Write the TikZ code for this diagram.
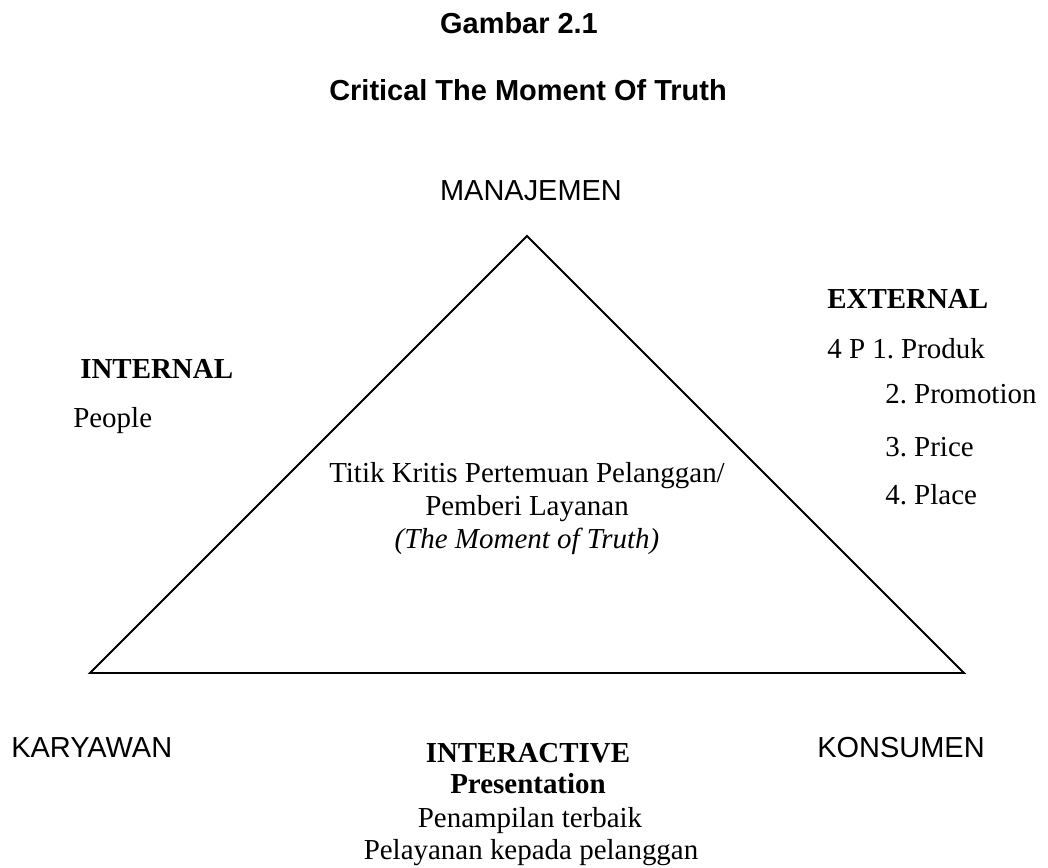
\documentclass[tikz,border=0pt]{standalone}
\usepackage{fontspec}
\setmainfont{Liberation Serif}
\setsansfont{Liberation Sans}
\usepackage{tikz}
\frenchspacing

\begin{document}
\begin{tikzpicture}[
  txt/.style={inner sep=0pt,font=\fontsize{20.6}{24}\selectfont},
  sanstxt/.style={inner sep=0pt,font=\fontsize{20.6}{24}\selectfont\sffamily},
  side/.style={line width=1.4pt,line join=miter}]
\useasboundingbox (0,0) rectangle (26.2,-21.7);
% --- heading ----------------------------------------------------------
\node[sanstxt,anchor=base,font=\fontsize{20.6}{24}\selectfont\sffamily\bfseries] (fig) at (12.975,-0.825) {Gambar 2.1};
\node[sanstxt,anchor=base,font=\fontsize{20.6}{24}\selectfont\sffamily\bfseries] (title) at (13.2,-2.5) {Critical The Moment Of Truth};
% --- triangle corners ----------------------------------------------------
\coordinate (top) at (13.175,-5.9);
\coordinate (left) at (2.25,-16.825);
\coordinate (right) at (24.1,-16.825);
\draw[side] (top) -- (left) -- (right) -- cycle;
\node[sanstxt,anchor=base] (mgmt) at (13.275,-5.0) {MANAJEMEN};
\node[sanstxt,anchor=base west] (staff) at (0.275,-18.925) {KARYAWAN};
\node[sanstxt,anchor=base east] (cust) at (24.625,-18.925) {KONSUMEN};
% --- external: the 4 P ---------------------------------------------------
\node[txt,anchor=base west,font=\fontsize{20.6}{24}\selectfont\bfseries] (ext) at (20.675,-7.7) {EXTERNAL};
\node[txt,anchor=base west] (fourp) at (20.675,-8.95) {4 P};
\foreach \y/\x/\lab/\name in {-8.95/21.8/1. Produk/p1, -10.075/22.125/2. Promotion/p2,
                             -11.4/22.125/3. Price/p3, -12.6/22.125/4. Place/p4} {
  \node[txt,anchor=base west] (\name) at (\x,\y) {\lab};
}
% --- internal --------------------------------------------------------------
\node[txt,anchor=base west,font=\fontsize{20.6}{24}\selectfont\bfseries] (int) at (2.0,-9.45) {INTERNAL};
\node[txt,anchor=base west] (people) at (1.825,-10.675) {People};
% --- centre text -----------------------------------------------------------
\node[txt,anchor=base] (mid1) at (13.175,-12.05) {Titik Kritis Pertemuan Pelanggan/};
\node[txt,anchor=base] (mid2) at (13.175,-12.875) {Pemberi Layanan};
\node[txt,anchor=base,font=\fontsize{20.6}{24}\selectfont\itshape] (mid3) at (13.175,-13.7) {(The Moment of Truth)};
% --- interactive -----------------------------------------------------------
\node[txt,anchor=base,font=\fontsize{20.6}{24}\selectfont\bfseries] (inter) at (13.2,-19.05) {INTERACTIVE};
\node[txt,anchor=base,font=\fontsize{20.6}{24}\selectfont\bfseries] (pres) at (13.2,-19.825) {Presentation};
\node[txt,anchor=base] (best) at (13.25,-20.675) {Penampilan terbaik};
\node[txt,anchor=base] (serve) at (13.275,-21.475) {Pelayanan kepada pelanggan};
\end{tikzpicture}
\end{document}
